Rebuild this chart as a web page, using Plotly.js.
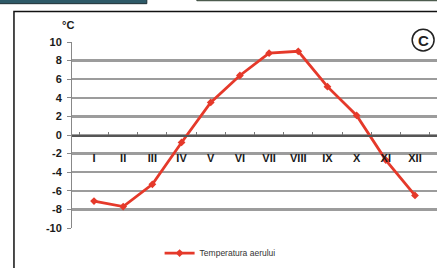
<!DOCTYPE html>
<html>
<head>
<meta charset="utf-8">
<script src="https://cdn.plot.ly/plotly-3.0.1.min.js"></script>
<style>
html,body{margin:0;padding:0;background:#fff;}
#chart{width:437px;height:268px;}
</style>
</head>
<body>
<div id="chart"></div>
<script>
const months = ["I","II","III","IV","V","VI","VII","VIII","IX","X","XI","XII"];
const temperatures = [-7.1, -7.7, -5.3, -0.8, 3.5, 6.4, 8.8, 9.0, 5.2, 2.1, -2.7, -6.5];
const seriesName = "Temperatura aerului";
const yTicks = [-10,-8,-6,-4,-2,0,2,4,6,8,10];

const trace = {
  x: months,
  y: temperatures,
  type: "scatter",
  mode: "lines+markers",
  name: seriesName,
  line: {color: "#e5392a", width: 2.8},
  marker: {symbol: "diamond", size: 6, color: "#e5392a"}
};

const layout = {
  width: 437, height: 268,
  margin: {l: 72, r: 0, t: 42, b: 37},
  paper_bgcolor: "#ffffff",
  plot_bgcolor: "#ffffff",
  font: {family: "Liberation Sans, Arial, sans-serif", color: "#222"},
  showlegend: true,
  legend: {orientation: "h", x: 0.24, y: -0.135, xanchor: "left", yanchor: "middle",
           font: {size: 8.5, color: "#333"}, bgcolor: "rgba(0,0,0,0)"},
  xaxis: {
    type: "category",
    anchor: "free", position: 0.5,
    showline: true, linecolor: "#555", linewidth: 1.5,
    ticks: "inside", tickson: "boundaries", ticklen: 3, tickcolor: "#777",
    ticklabelstandoff: 12,
    tickfont: {size: 11, color: "#1a1a1a", family: "Liberation Sans, Arial, sans-serif", weight: "bold"},
    showgrid: false, zeroline: false, fixedrange: true
  },
  yaxis: {
    range: [-10, 10],
    tickvals: yTicks,
    ticktext: yTicks.map(String),
    showline: true, linecolor: "#888", linewidth: 1,
    ticks: "outside", ticklen: 4, tickcolor: "#888",
    ticklabelstandoff: 3,
    tickfont: {size: 11, color: "#1a1a1a", family: "Liberation Sans, Arial, sans-serif", weight: "bold"},
    showgrid: true, gridcolor: "#9c9c9c", gridwidth: 2.5,
    zeroline: false, fixedrange: true
  },
  shapes: [
    {type: "rect", xref: "paper", yref: "paper", x0: -0.159, x1: 1.02, y0: -0.3, y1: 1.164,
     line: {color: "#111", width: 1.5}, fillcolor: "rgba(0,0,0,0)", layer: "below"},
    {type: "rect", xref: "paper", yref: "paper", x0: -0.2, x1: 0.205, y0: 1.206, y1: 1.25,
     line: {color: "#1d2f35", width: 1}, fillcolor: "#2e5a68"},
    {type: "rect", xref: "paper", yref: "paper", x0: 0.342, x1: 1.02, y0: 1.222, y1: 1.25,
     line: {color: "#2a3a30", width: 1}, fillcolor: "#c9d9b0"},
    {type: "circle", xref: "paper", yref: "paper", x0: 0.932, x1: 0.992, y0: 0.952, y1: 1.069,
     line: {color: "#222", width: 1.5}, fillcolor: "#ffffff"}
  ],
  annotations: [
    {text: "°C", xref: "paper", yref: "paper", x: -0.01, y: 1.09, xanchor: "center", yanchor: "middle",
     showarrow: false, font: {size: 11, color: "#1a1a1a", weight: "bold"}},
    {text: "C", xref: "paper", yref: "paper", x: 0.962, y: 1.0106, xanchor: "center", yanchor: "middle",
     showarrow: false, font: {size: 15, color: "#222", weight: "bold"}}
  ]
};

Plotly.newPlot("chart", [trace], layout, {displayModeBar: false, staticPlot: true});
</script>
</body>
</html>
